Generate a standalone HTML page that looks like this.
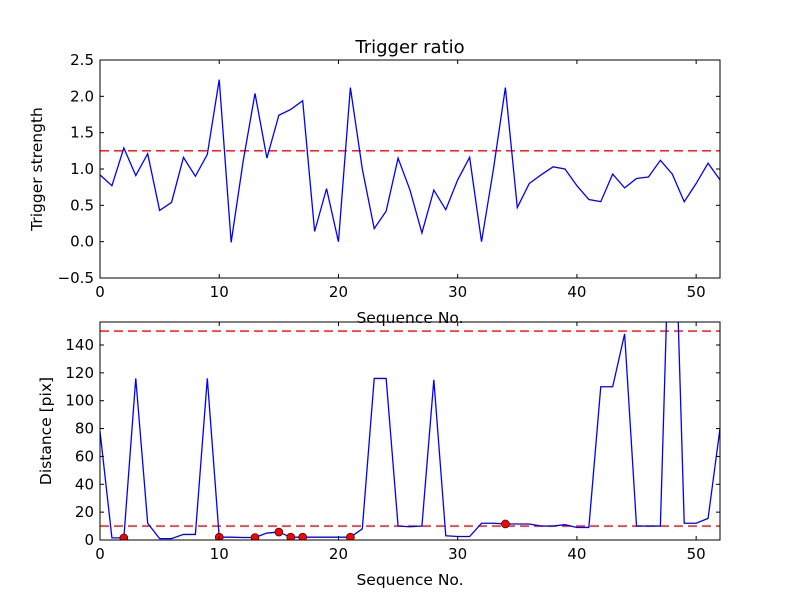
<!DOCTYPE html>
<html><head><meta charset="utf-8"><style>
html,body{margin:0;padding:0;background:#fff;}
svg{display:block;font-family:"DejaVu Sans","Liberation Sans",sans-serif;}
</style></head><body>
<svg id="chart" width="800" height="600" viewBox="0 0 800 600">
<rect width="800" height="600" fill="#fff"/>
<text x="410" y="53" font-size="18" text-anchor="middle">Trigger ratio</text>
<g id="top"></g>
<g id="bot"></g>
</svg>
<script>
const seqTop = [0,1,2,3,4,5,6,7,8,9,10,11,12,13,14,15,16,17,18,19,20,21,22,23,24,25,26,27,28,29,30,31,32,33,34,35,36,37,38,39,40,41,42,43,44,45,46,47,48,49,50,51,52];
const strength = [0.92,0.77,1.29,0.91,1.21,0.43,0.54,1.16,0.90,1.20,2.23,-0.01,1.10,2.04,1.15,1.74,1.82,1.94,0.14,0.73,0.00,2.12,1.00,0.18,0.42,1.15,0.71,0.12,0.71,0.44,0.85,1.16,0.00,1.00,2.12,0.47,0.80,0.92,1.03,1.00,0.77,0.58,0.55,0.93,0.74,0.87,0.89,1.12,0.93,0.55,0.80,1.08,0.85];
const strengthThreshold = [1.25];
const distance = [78,1.5,1.5,116,12,1,1,4,4,116,2,2,1.8,1.8,5,5.7,2,2,2,2,2,2,8,116,116,10,9.5,10,115,3,2.5,2.5,12,12,11.5,11.5,11.5,10,10,11,9,9,110,110,148,10,10,10,300,12,12,15.5,80];
const distThresholds = [10,150];
const markerIdx = [2,10,13,15,16,17,21,34];
const xTicks = [0,10,20,30,40,50];
const yTicksTop = [-0.5,0.0,0.5,1.0,1.5,2.0,2.5];
const yTickLabelsTop = ["\u22120.5","0.0","0.5","1.0","1.5","2.0","2.5"];
const yTicksBot = [0,20,40,60,80,100,120,140];

const NS='http://www.w3.org/2000/svg';
function mk(p,t,a){const e=document.createElementNS(NS,t);for(const k in a)e.setAttribute(k,a[k]);p.appendChild(e);return e;}

function panel(g,x0,x1,y0,y1,ymin,ymax,xs,ys,yt,ytl,thr,ylab,marks,clipId){
  const sx=v=>x0+(v-0)/(52-0)*(x1-x0);
  const sy=v=>y1-(v-ymin)/(ymax-ymin)*(y1-y0);
  const defs=mk(g,'defs',{});
  const cp=mk(defs,'clipPath',{id:clipId});
  mk(cp,'rect',{x:x0,y:y0,width:x1-x0,height:y1-y0});
  const data=mk(g,'g',{'clip-path':'url(#'+clipId+')'});
  
  
  thr.forEach(t=>{
    const l=mk(data,'line',{x1:x0,x2:x1,y1:sy(t),y2:sy(t),stroke:'#ff0000','stroke-width':1.3,'stroke-dasharray':'9,5'});
    
    
  });
  const pts=xs.map((x,i)=>sx(x).toFixed(2)+','+sy(ys[i]).toFixed(2)).join(' ');
  const pl=mk(data,'polyline',{points:pts,fill:'none',stroke:'#0000ff','stroke-width':1.3});
  
  
  if(marks){marks.forEach(i=>{
    const c=mk(data,'circle',{cx:sx(xs[i]),cy:sy(ys[i]),r:4,fill:'#ff0000',stroke:'#000','stroke-width':0.6});
    
    
  });}
  const fr=mk(g,'rect',{x:x0,y:y0,width:x1-x0,height:y1-y0,fill:'none',stroke:'#000','stroke-width':1});
  
  
  xTicks.forEach(t=>{
    const x=sx(t);
    mk(g,'line',{x1:x,x2:x,y1:y1,y2:y1-4,stroke:'#000'});
    mk(g,'line',{x1:x,x2:x,y1:y0,y2:y0+4,stroke:'#000'});
    const tx=mk(g,'text',{x:x,y:y1+19,'font-size':15,'text-anchor':'middle'});
    
    
    tx.textContent=t;
  });
  yt.forEach((t,i)=>{
    const y=sy(t);
    mk(g,'line',{x1:x0,x2:x0+4,y1:y,y2:y,stroke:'#000'});
    mk(g,'line',{x1:x1,x2:x1-4,y1:y,y2:y,stroke:'#000'});
    const tx=mk(g,'text',{x:x0-6,y:y+5,'font-size':15,'text-anchor':'end'});
    
    
    tx.textContent=ytl?ytl[i]:t;
  });
  const xl=mk(g,'text',{x:(x0+x1)/2,y:y1+45,'font-size':15.5,'text-anchor':'middle'});
  
  
  xl.textContent='Sequence No.';
  const yc=(y0+y1)/2;
  const yl=mk(g,'text',{x:ylab[1],y:yc,'font-size':15.5,'text-anchor':'middle',transform:'rotate(-90 '+ylab[1]+' '+yc+')'});
  
  
  yl.textContent=ylab[0];
}
panel(document.getElementById('top'),100,720,60,278,-0.5,2.5,seqTop,strength,yTicksTop,yTickLabelsTop,strengthThreshold,['Trigger strength',42],null,'c1');
panel(document.getElementById('bot'),100,720,322,540,0,156.5,seqTop,distance,yTicksBot,null,distThresholds,['Distance [pix]',51],markerIdx,'c2');
</script>
</body></html>
